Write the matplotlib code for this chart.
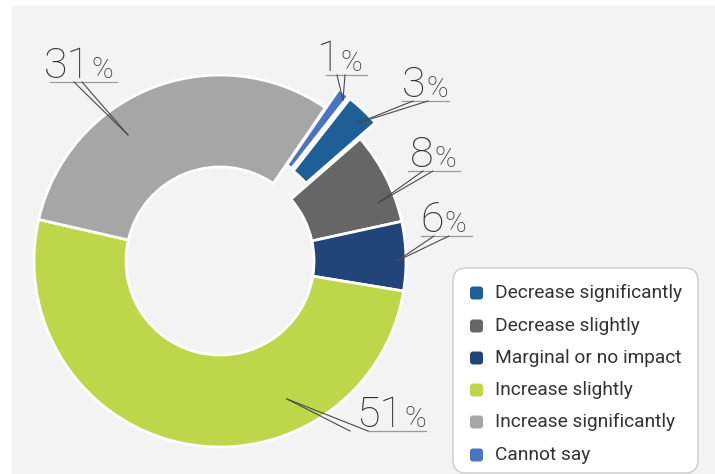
import matplotlib.pyplot as plt
from matplotlib.patches import Rectangle, FancyBboxPatch

# survey answers, in the order the wedges run clockwise from the top
labels = ["Cannot say", "Decrease significantly", "Decrease slightly",
          "Marginal or no impact", "Increase slightly", "Increase significantly"]
values = [1, 3, 8, 6, 51, 31]
colors = ["#4a74c0", "#1f5f97", "#666666", "#214479", "#bed649", "#a6a6a6"]
explode = [23, 22, 0, 0, 0, 0]  # pie offsets are in data units (px here)

# legend lists the answers starting from "Decrease significantly"
legend_order = [1, 2, 3, 4, 5, 0]

W, H = 715, 474
fig = plt.figure(figsize=(W / 100, H / 100), dpi=100)
ax = fig.add_axes([0, 0, 1, 1])

def y(v):
    # pixel row measured from the top -> data y
    return H - v

ax.add_patch(Rectangle((12, 0), W - 12, y(6), color="#f3f3f3", zorder=0))

cx, cy, R = 220, y(261), 186
ax.pie(values, colors=colors, explode=explode, startangle=55.5,
       counterclock=False, center=(cx, cy), radius=R,
       wedgeprops=dict(width=92, edgecolor="white", linewidth=2))
ax.set_xlim(0, W)
ax.set_ylim(0, H)
ax.set_aspect("equal")
ax.axis("off")

# callouts: split x, baseline, underline x0..x1, leader starts, leader tip
callouts = [
    (340, 71, 326, 367, (337, 345), (343, 100)),
    (426, 97, 402, 449, (413, 428), (358, 123)),
    (434, 167, 408, 460, (423, 433), (378, 203)),
    (444, 232, 421, 472, (434, 449), (397, 261)),
    (404, 427, 368, 426, (350, 368), (287, 399)),
    (91, 78, 50, 117, (74, 82), (128, 135)),
]
num_font = dict(family=["Roboto", "DejaVu Sans"], fontweight="light", color="#333333")
for v, (sx, base, u0, u1, starts, tip) in zip(values, callouts):
    ax.text(sx - 0.5, y(base), str(v), ha="right", va="baseline", fontsize=31, **num_font)
    ax.text(sx + 0.5, y(base), "%", ha="left", va="baseline", fontsize=21, **num_font)
    uy = base + 4
    ax.plot([u0, u1], [y(uy), y(uy)], color="#9a9a9a", lw=0.9, zorder=5)
    for s in starts:
        ax.plot([s, tip[0]], [y(uy), y(tip[1])], color="#4a4a4a", lw=0.8, zorder=5)

# legend box
ax.add_patch(FancyBboxPatch((453, y(473)), 245, 205,
                            boxstyle="round,pad=0,rounding_size=13",
                            facecolor="white", edgecolor="#cccccc", lw=1, zorder=4))
row_y = [293, 326, 358, 390, 422, 455]
for ry, i in zip(row_y, legend_order):
    ax.add_patch(FancyBboxPatch((470, y(ry + 6.5)), 13, 13,
                                boxstyle="round,pad=0,rounding_size=3",
                                facecolor=colors[i], edgecolor="none", zorder=5))
    ax.text(495, y(ry), labels[i], ha="left", va="center", fontsize=13.8,
            family=["Roboto", "DejaVu Sans"], color="#333333", zorder=6)

fig.savefig("out.png", dpi=100, facecolor="white")
